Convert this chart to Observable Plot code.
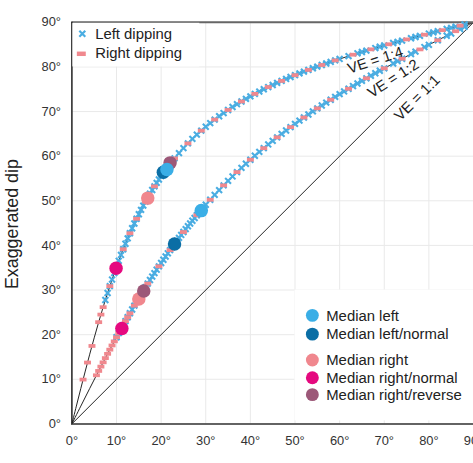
<!DOCTYPE html>
<html>
<head>
<meta charset="utf-8">
<script src="https://cdn.jsdelivr.net/npm/d3@7"></script>
<script src="https://cdn.jsdelivr.net/npm/@observablehq/plot@0.6"></script>
<style>
  html, body { margin: 0; padding: 0; background: #fff; overflow: hidden; }
</style>
</head>
<body>
<div id="chart"></div>
<script>
// ---- data: [true dip, exaggerated dip] ----
const ticks = [0, 10, 20, 30, 40, 50, 60, 70, 80, 90];

const ve11 = [[0, 0], [90, 90]];
const ve12 = [[0,0],[2,3.99],[4,7.96],[6,11.87],[8,15.70],[10,19.43],[12,23.04],[14,26.50],[16,29.83],[18,33.02],[20,36.05],[22,38.94],[24,41.69],[26,44.29],[28,46.76],[30,49.11],[34,53.45],[38,57.38],[42,60.96],[46,64.22],[50,67.24],[54,70.04],[58,72.65],[62,75.11],[66,77.45],[70,79.69],[74,81.84],[78,83.93],[82,85.98],[86,88.00],[90,90]];
const ve14 = [[0,0],[1,3.99],[2,7.95],[3,11.84],[4,15.63],[5,19.29],[6,22.80],[7,26.16],[8,29.34],[9,32.35],[10,35.19],[11,37.87],[12,40.37],[13,42.72],[14,44.92],[15,46.99],[16,48.92],[17,50.72],[18,52.42],[19,54.01],[20,55.52],[22,58.26],[24,60.68],[26,62.86],[28,64.82],[30,66.59],[32,68.20],[34,69.66],[36,71.01],[38,72.26],[40,73.41],[44,75.49],[48,77.31],[52,78.95],[56,80.43],[60,81.79],[64,83.05],[68,84.23],[72,85.36],[76,86.43],[80,87.48],[84,88.50],[88,89.50],[90,90]];

const leftDipping14 = [[7.5,27.77],[8,29.34],[8.5,30.87],[9,32.35],[9.5,33.80],[10,35.19],[10.5,36.55],[11,37.87],[11.5,39.14],[12,40.37],[12.5,41.57],[13,42.72],[13.5,43.84],[14,44.92],[14.5,45.97],[15,46.99],[15.5,47.97],[16,48.92],[16.5,49.83],[17,50.72],[17.5,51.59],[18,52.42],[18.5,53.23],[19,54.01],[19.5,54.78],[20,55.52],[21,56.92],[22,58.26],[23,59.50],[24,60.68],[25,61.80],[26,62.86],[27,63.87],[28,64.82],[29,65.72],[30,66.59],[31,67.41],[32,68.20],[33,68.94],[34,69.66],[35,70.35],[36,71.01],[37,71.65],[38,72.26],[39,72.84],[40,73.41],[41,73.96],[42,74.48],[43,74.99],[44,75.49],[45,75.96],[46,76.43],[47,76.87],[48,77.31],[49,77.74],[50,78.15],[51,78.56],[52,78.95],[53,79.33],[54,79.71],[55,80.07],[56,80.43],[57,80.78],[58,81.12],[59,81.46],[60,81.79],[62,82.43],[64,83.05],[65,83.35],[66,83.65],[68,84.23],[69,84.52],[70,84.80],[72,85.36],[73,85.63],[74,85.90],[76,86.43],[77,86.70],[78,86.96],[80,87.48],[81,87.73],[82,87.99],[84,88.50],[85,88.75],[86,89.00],[88,89.50]];
const leftDipping12 = [[10,19.43],[10.5,20.34],[11,21.25],[11.5,22.14],[12,23.04],[12.5,23.91],[13,24.79],[13.5,25.65],[14,26.50],[14.5,27.35],[15,28.19],[15.5,29.01],[16,29.83],[16.5,30.64],[17,31.45],[17.5,32.24],[18,33.02],[18.5,33.79],[19,34.56],[19.5,35.31],[20,36.05],[20.5,36.79],[21,37.52],[21.5,38.23],[22,38.94],[22.5,39.64],[23,40.33],[23.5,41.01],[24,41.69],[24.5,42.35],[25,43.00],[25.5,43.65],[26,44.29],[26.5,44.92],[27,45.54],[27.5,46.15],[28,46.76],[28.5,47.37],[29,47.95],[29.5,48.53],[30,49.11],[31,50.23],[32,51.33],[33,52.40],[34,53.45],[35,54.47],[36,55.46],[37,56.43],[38,57.38],[39,58.30],[40,59.21],[41,60.09],[42,60.96],[43,61.79],[44,62.63],[45,63.43],[46,64.22],[47,65.00],[48,65.76],[49,66.51],[50,67.24],[51,67.96],[52,68.66],[53,69.35],[54,70.04],[55,70.71],[56,71.36],[57,72.01],[58,72.65],[59,73.28],[60,73.90],[61,74.51],[62,75.11],[63,75.71],[64,76.29],[65,76.88],[66,77.45],[67,78.02],[68,78.58],[69,79.14],[70,79.69],[72,80.77],[73,81.31],[74,81.84],[76,82.89],[77,83.42],[79,84.45],[80,84.96],[82,85.98],[84,86.99],[85,87.50],[87,88.50],[88,89.00]];
const rightDipping14 = [[2.5,9.93],[3.5,13.75],[4.5,17.47],[6,22.80],[6.5,24.50],[7,26.16],[8.5,30.87],[10,35.19],[11.5,39.14],[13,42.72],[14.5,45.97],[16.5,49.83],[18.5,53.23],[21,56.92],[23,59.50],[26,62.86],[29,65.72],[32,68.20],[35,70.35],[38,72.26],[41,73.96],[44,75.49],[47,76.87],[50,78.15],[53,79.33],[56,80.43],[59,81.46],[63,82.74],[67,83.94],[71,85.08],[75,86.17],[79,87.22],[83,88.24],[87,89.25]];
const rightDipping12 = [[5.5,10.90],[6,11.87],[6.5,12.84],[7,13.80],[7.5,14.75],[8,15.70],[8.5,16.64],[9,17.58],[9.5,18.50],[10,19.43],[10.5,20.34],[11,21.25],[11.5,22.14],[12,23.04],[12.5,23.91],[13,24.79],[14,26.50],[15,28.19],[17,31.45],[19.5,35.31],[22,38.94],[25,43.00],[28,46.76],[31,50.23],[34,53.45],[37,56.43],[40,59.21],[43,61.79],[46,64.22],[49,66.51],[52,68.66],[55,70.71],[58,72.65],[62,75.11],[66,77.45],[70,79.69],[74,81.84],[78,83.93],[82,85.98],[86,88.00]];

const medianLeft = [[21.3,57.0],[29.0,47.8]];
const medianLeftNormal = [[20.5,56.4],[23.0,40.3]];
const medianRight = [[17.0,50.6],[15.0,28.0]];
const medianRightNormal = [[9.9,34.9],[11.2,21.4]];
const medianRightReverse = [[22.0,58.5],[16.1,29.8]];

const veLabels = ["VE = 1:4", "VE = 1:2", "VE = 1:1"];
const medianNames = ["Median left", "Median left/normal", "Median right", "Median right/normal", "Median right/reverse"];
const dipNames = ["Left dipping", "Right dipping"];

// ---- styles ----
const BLUE_X = "#4aade2";
const PINK = "#f0888e";
const medianColors = ["#3aaee6", "#0b6ea5", "#f0878e", "#e5097f", "#9c5878"];
const FONT = "'Liberation Sans', Arial, Helvetica, sans-serif";

const dash = {
  draw(context) {
    context.rect(-3.5, -1.9, 7, 3.8);
  }
};

const X = d => d[0], Y = d => d[1];
const deg = d => d + "°";

const chart = Plot.plot({
  width: 477,
  height: 463,
  marginLeft: 72,
  marginRight: 0,
  marginTop: 22,
  marginBottom: 36,
  x: {domain: [0, 90]},
  y: {domain: [0, 90]},
  style: {fontFamily: FONT, fontSize: "13px", color: "#333", background: "#fff"},
  marks: [
    Plot.gridX(ticks, {stroke: "#e9e9e9", strokeOpacity: 1}),
    Plot.gridY(ticks, {stroke: "#e9e9e9", strokeOpacity: 1}),
    Plot.axisX({ticks, tickSize: 0, tickPadding: 12, tickFormat: deg, label: null, fill: "#333", fontSize: 13}),
    Plot.axisY({ticks, tickSize: 0, tickPadding: 11, tickFormat: deg, label: null, fill: "#333", fontSize: 13}),
    Plot.line(ve11, {x: X, y: Y, stroke: "#222", strokeWidth: 1}),
    Plot.line(ve12, {x: X, y: Y, stroke: "#222", strokeWidth: 1, curve: "catmull-rom"}),
    Plot.line(ve14, {x: X, y: Y, stroke: "#222", strokeWidth: 1, curve: "catmull-rom"}),
    Plot.ruleY([90], {stroke: "#666", strokeWidth: 2}),
    Plot.ruleX([0], {stroke: "#222", strokeWidth: 1.5}),
    Plot.ruleY([0], {stroke: "#333", strokeWidth: 1.5}),
    Plot.dot(leftDipping14, {x: X, y: Y, symbol: "times", r: 2.8, stroke: BLUE_X, strokeWidth: 2.1}),
    Plot.dot(leftDipping12, {x: X, y: Y, symbol: "times", r: 2.8, stroke: BLUE_X, strokeWidth: 2.1}),
    Plot.dot(rightDipping14, {x: X, y: Y, symbol: dash, fill: PINK, stroke: "none"}),
    Plot.dot(rightDipping12, {x: X, y: Y, symbol: dash, fill: PINK, stroke: "none"}),
    Plot.text([veLabels[0]], {x: 68.0, y: 81.5, text: d => d, rotate: -18, fontSize: 15, fill: "#222", lineAnchor: "middle"}),
    Plot.text([veLabels[1]], {x: 72.0, y: 77.4, text: d => d, rotate: -33, fontSize: 15, fill: "#222", lineAnchor: "middle"}),
    Plot.text([veLabels[2]], {x: 77.4, y: 73.1, text: d => d, rotate: -45, fontSize: 15, fill: "#222", lineAnchor: "middle"}),
    Plot.dot(medianRight, {x: X, y: Y, r: 6.8, fill: medianColors[2], stroke: "none"}),
    Plot.dot(medianRightNormal, {x: X, y: Y, r: 6.8, fill: medianColors[3], stroke: "none"}),
    Plot.dot(medianLeftNormal, {x: X, y: Y, r: 6.8, fill: medianColors[1], stroke: "none"}),
    Plot.dot(medianRightReverse, {x: X, y: Y, r: 6.8, fill: medianColors[4], stroke: "none"}),
    Plot.dot(medianLeft, {x: X, y: Y, r: 6.8, fill: medianColors[0], stroke: "none"})
  ]
});

document.getElementById("chart").appendChild(chart);

// ---- titles and legends ----
const svg = d3.select(chart);
const g = svg.append("g").attr("font-family", FONT).attr("text-anchor", "start");

g.append("text")
  .attr("transform", "translate(18,226) rotate(-90)")
  .attr("text-anchor", "middle")
  .attr("font-size", 18)
  .attr("fill", "#222")
  .text("Exaggerated dip");

g.append("text")
  .attr("x", 280).attr("y", 476)
  .attr("text-anchor", "middle")
  .attr("font-size", 18)
  .attr("fill", "#222")
  .text("Non-exaggerated dip");

// legend 1
const lg1 = g.append("g");
lg1.append("rect").attr("x", 73).attr("y", 23).attr("width", 128).attr("height", 44).attr("fill", "#fff").attr("stroke", "none");
lg1.append("path").attr("d", "M80,31L86,37M86,31L80,37").attr("fill", "none").attr("stroke", BLUE_X).attr("stroke-width", 2.2);
lg1.append("rect").attr("x", 77.5).attr("y", 52).attr("width", 9).attr("height", 4.5).attr("fill", PINK).attr("stroke", "none");
lg1.selectAll("text").data(dipNames).join("text")
  .attr("x", 96).attr("y", (d, i) => 39 + i * 20)
  .attr("text-anchor", "start")
  .attr("font-size", 15).attr("fill", "#222").text(d => d);

// legend 2
const lg2 = g.append("g");
lg2.append("rect").attr("x", 297).attr("y", 292).attr("width", 180).attr("height", 132).attr("fill", "#fff").attr("stroke", "none");
const ly = [318, 337, 363, 381, 398];
lg2.selectAll("circle").data(medianNames).join("circle")
  .attr("cx", 315).attr("cy", (d, i) => ly[i]).attr("r", 6.5)
  .attr("fill", (d, i) => medianColors[i]).attr("stroke", "none");
lg2.selectAll("text").data(medianNames).join("text")
  .attr("x", 329).attr("y", (d, i) => ly[i] + 5.3)
  .attr("text-anchor", "start")
  .attr("font-size", 15).attr("fill", "#222").text(d => d);
</script>
</body>
</html>
